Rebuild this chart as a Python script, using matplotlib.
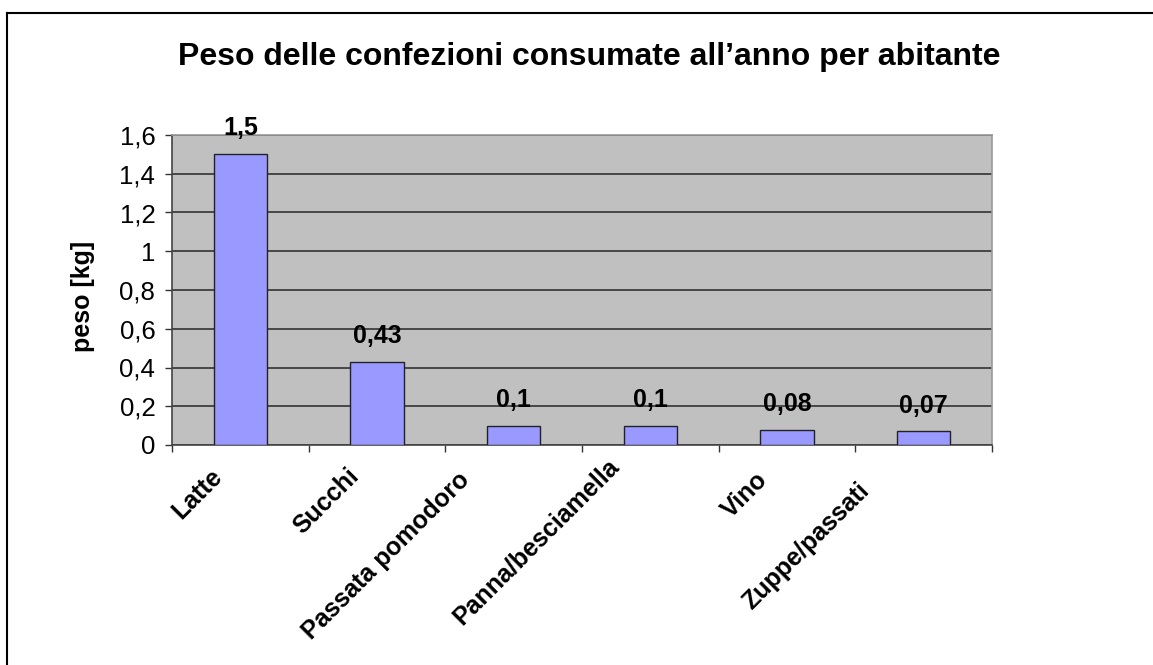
import matplotlib.pyplot as plt
from matplotlib.lines import Line2D
from matplotlib.ticker import FixedLocator, FuncFormatter

plt.rcParams['font.family'] = ['Liberation Sans', 'DejaVu Sans']

# data
categorie = ['Latte', 'Succhi', 'Passata pomodoro', 'Panna/besciamella', 'Vino', 'Zuppe/passati']
peso = [1.5, 0.43, 0.1, 0.1, 0.08, 0.07]
etichette = ['1,5', '0,43', '0,1', '0,1', '0,08', '0,07']
# small shifts of the rotated labels (as in the original)
shift_label = [-0.22, -0.225, -0.41, -0.32, -0.235, -0.49]
drop_label = [19, 19, 23, 9, 23, 33]

fig = plt.figure(figsize=(11.53, 6.65), dpi=100)
ax = fig.add_axes([172 / 1153, 1 - 445 / 665, 820 / 1153, 310 / 665])

x = list(range(len(categorie)))
ax.bar(x, peso, width=0.39, color='#9999ff', edgecolor='#222222', linewidth=1, zorder=3)

ax.set_facecolor('#c0c0c0')
ax.set_xlim(-0.5, len(categorie) - 0.5)
ax.set_ylim(0, 1.6)
ax.set_yticks([i * 0.2 for i in range(9)])
ax.yaxis.set_major_formatter(FuncFormatter(lambda v, p: ('%g' % round(v, 1)).replace('.', ',')))
ax.grid(axis='y', color='#333333', linewidth=1.2, zorder=1)

ax.xaxis.set_major_locator(FixedLocator([i - 0.5 for i in range(len(categorie) + 1)]))
ax.set_xticklabels([])
ax.tick_params(axis='both', direction='out', length=5, width=1, color='#333333')
ax.tick_params(axis='y', labelsize=18.5, pad=7)

for s in ['left', 'bottom']:
    ax.spines[s].set_color('#444444')
    ax.spines[s].set_linewidth(1.2)
for s in ['top', 'right']:
    ax.spines[s].set_color('#999999')
    ax.spines[s].set_linewidth(1.2)

# category labels
for i, c in enumerate(categorie):
    ax.annotate(c, xy=(i + shift_label[i], 0), xycoords='data',
                xytext=(0, -drop_label[i]), textcoords='offset pixels',
                rotation=45, ha='right', va='top', rotation_mode='anchor',
                fontsize=18, fontweight='bold', annotation_clip=False)

# data labels
for i, v in enumerate(peso):
    ax.annotate(etichette[i], xy=(i, v), xytext=(0, 10), textcoords='offset points',
                ha='center', va='bottom', fontsize=18, fontweight='bold',
                annotation_clip=False)

ax.set_ylabel('peso [kg]', fontsize=18, fontweight='bold')
ax.yaxis.set_label_coords(-0.094, 0.48)
fig.text(589 / 1153, 1 - 57 / 665, 'Peso delle confezioni consumate all\u2019anno per abitante',
         ha='center', va='center', fontsize=23, fontweight='bold')

# chart border (top and left only visible)
fig.add_artist(Line2D([7 / 1153, 1], [1 - 13 / 665, 1 - 13 / 665], color='black', linewidth=1.5))
fig.add_artist(Line2D([7 / 1153, 7 / 1153], [0, 1 - 13 / 665], color='black', linewidth=1.5))

fig.savefig('out.png', dpi=100)
